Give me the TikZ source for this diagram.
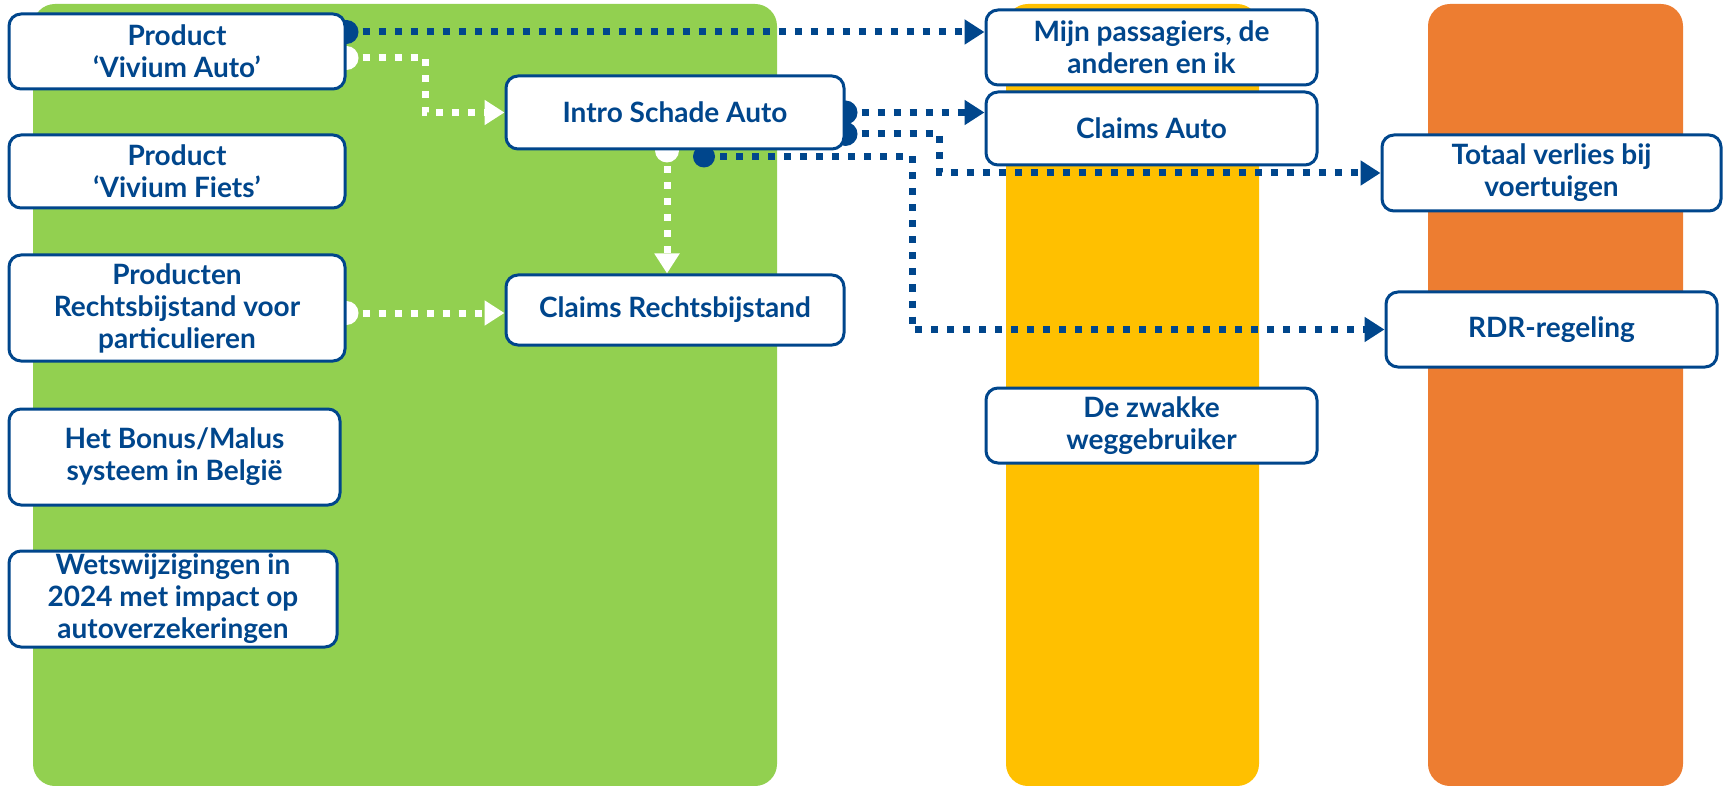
\documentclass[tikz,border=0pt]{standalone}
\usepackage{fontspec}
\setmainfont{Lato}
\usetikzlibrary{arrows.meta,calc,backgrounds}
\definecolor{vblue}{RGB}{0,70,140}
\definecolor{vgreen}{RGB}{146,208,80}
\definecolor{vyellow}{RGB}{255,192,0}
\definecolor{vorange}{RGB}{237,125,49}
\begin{document}
\begin{tikzpicture}[x=0.5pt,y=-0.5pt,
 box/.style={draw=vblue, line width=1.5pt, fill=white, rounded corners=6pt, text=vblue,
   font=\fontsize{14}{16}\selectfont\bfseries, align=center, inner sep=0pt},
 con/.style={line width=3.5pt, dash pattern=on 3.5pt off 4.5pt, -{Triangle[length=10pt,width=12pt]}},
 bcon/.style={con, draw=vblue},
 wcon/.style={con, draw=white},
 bdot/.style={fill=vblue},
 wdot/.style={fill=white},
 panel/.style={rounded corners=11pt},
 ]
\useasboundingbox (0,0) rectangle (1729,786);

% nodes
\node[box, minimum width=168pt, minimum height=37.5pt] (va) at (177,51.5) {Product\\‘Vivium Auto’};
\node[box, minimum width=168pt, minimum height=36.5pt] (vf) at (177,171.5) {Product\\‘Vivium Fiets’};
\node[box, minimum width=168pt, minimum height=53pt] (prb) at (177,308) {Producten\\Rechtsbijstand voor\\particulieren};
\node[box, minimum width=165.5pt, minimum height=48pt] (bm) at (174.5,457) {Het Bonus/Malus\\systeem in België};
\node[box, minimum width=164pt, minimum height=48pt] (ww) at (173,599) {Wetswijzigingen in\\2024 met impact op\\autoverzekeringen};
\node[box, minimum width=169pt, minimum height=36.5pt] (intro) at (675,112.5) {Intro Schade Auto};
\node[box, minimum width=169pt, minimum height=35pt] (crb) at (675,310) {Claims Rechtsbijstand};
\node[box, minimum width=165.5pt, minimum height=37.5pt] (mijn) at (1151.5,47.5) {Mijn passagiers, de\\anderen en ik};
\node[box, minimum width=165.5pt, minimum height=36.5pt] (ca) at (1151.5,128.5) {Claims Auto};
\node[box, minimum width=169.5pt, minimum height=38pt] (tv) at (1551.5,173) {Totaal verlies bij\\voertuigen};
\node[box, minimum width=165.5pt, minimum height=37.5pt] (rdr) at (1551.5,329.5) {RDR-regeling};
\node[box, minimum width=165.5pt, minimum height=37.5pt] (zw) at (1151.5,425.5) {De zwakke\\weggebruiker};

\begin{scope}[on background layer]
% panels
\fill[vgreen, panel] (33,4) rectangle (777,786);
\fill[vyellow, panel] (1006,4) rectangle (1259,786);
\fill[vorange, panel] (1428,4) rectangle (1683,786);

% start points
\coordinate (s1) at ([yshift=9.75pt]va.east);
\coordinate (s2) at ([yshift=-3.25pt]va.east);
\coordinate (s3) at (intro.east);
\coordinate (s4) at ([yshift=-10.75pt]intro.east);
\coordinate (s5) at ([xshift=14.5pt,yshift=-3pt]intro.south);
\coordinate (s6) at ([xshift=-4pt]intro.south);
\coordinate (s7) at ([yshift=-2.5pt]prb.east);

% connectors
\draw[bcon] (s1) -- (s1 -| mijn.west);
\draw[wcon] (s2) -| ([xshift=-39.5pt]intro.west) -- (intro.west);
\draw[bcon] (s3) -- (s3 -| ca.west);
\draw[bcon] (s4) -- ++(94,0) |- (tv.west);
\draw[bcon] (s5) -- ++(208,0) |- (rdr.west);
\draw[wcon] (s6) -- (s6 |- crb.north);
\draw[wcon] (s7) -- (s7 -| crb.west);

% start dots
\fill[bdot] (s1) circle (6pt);
\fill[wdot] (s2) circle (6pt);
\fill[bdot] (s3) circle (6pt);
\fill[bdot] (s4) circle (6pt);
\fill[bdot] (s5) circle (5.5pt);
\fill[wdot] (s6) circle (6pt);
\fill[wdot] (s7) circle (6pt);
\end{scope}
\end{tikzpicture}
\end{document}
